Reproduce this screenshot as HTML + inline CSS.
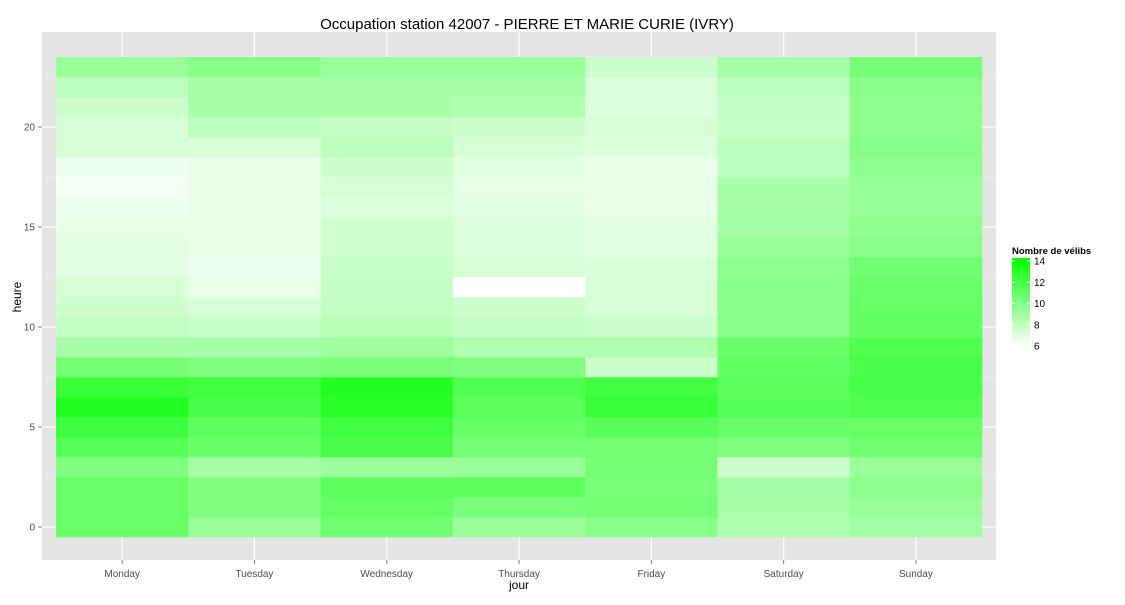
<!DOCTYPE html>
<html><head><meta charset="utf-8"><style>
body{margin:0;background:#fff;font-family:"Liberation Sans",sans-serif;}
svg text{font-family:"Liberation Sans",sans-serif;}
</style></head><body>
<svg id="chart" width="1125" height="600" xmlns="http://www.w3.org/2000/svg">
<text x="527" y="29" font-size="15" text-anchor="middle" fill="#000">Occupation station 42007 - PIERRE ET MARIE CURIE (IVRY)</text>
<rect x="42" y="32" width="954" height="528" fill="#e5e5e5"/>
<g id="grid"></g>
<g id="tiles"></g>
<g id="axes"></g>
<text x="519" y="589" font-size="12" text-anchor="middle">jour</text>
<text x="21" y="297" font-size="12" text-anchor="middle" transform="rotate(-90 21 297)">heure</text>
<g>
<text x="1012" y="254" font-size="9.5" font-weight="bold">Nombre de vélibs</text>
<defs><linearGradient id="lg" x1="0" y1="1" x2="0" y2="0"><stop offset="0" stop-color="#ffffff"/><stop offset="1" stop-color="#00ff00"/></linearGradient></defs>
<rect x="1012" y="258" width="18" height="88" fill="url(#lg)"/>
<g id="legendticks"></g>
</g>
</svg>
<script>
const days = ["Monday","Tuesday","Wednesday","Thursday","Friday","Saturday","Sunday"];
const hours = [0,1,2,3,4,5,6,7,8,9,10,11,12,13,14,15,16,17,18,19,20,21,22,23];
// values per day, hour 0..23
const monday    = [10.8,10.8,10.8,10.0,11.3,12.1,13.0,12.2,10.3,8.7,7.9,7.6,7.3,6.9,6.9,6.8,6.5,6.3,6.5,7.3,7.3,7.6,8.1,9.2];
const tuesday   = [9.2,10.0,10.0,8.8,10.6,11.0,11.7,12.0,10.0,8.7,7.7,7.2,6.7,6.5,6.7,6.7,6.7,6.7,6.7,7.2,8.1,8.7,8.8,9.7];
const wednesday = [10.5,10.8,11.1,9.1,11.7,12.0,12.7,12.9,10.2,9.0,8.2,7.9,7.8,7.7,7.5,7.5,7.1,7.3,7.6,8.1,7.8,8.7,8.8,9.2];
const thursday  = [9.2,10.2,11.1,9.2,10.3,10.8,11.1,11.5,10.0,8.5,7.8,7.6,6.0,7.3,7.1,7.1,6.9,6.8,6.9,7.3,7.6,8.5,8.8,9.2];
const friday    = [9.7,10.4,10.2,10.3,10.4,11.2,12.2,11.9,7.6,8.5,7.6,7.3,7.3,7.2,6.9,6.9,6.7,6.8,6.7,7.1,7.3,7.1,7.1,7.6];
const saturday  = [8.5,8.7,8.9,7.6,10.0,10.7,11.2,11.1,10.9,10.6,9.7,9.7,9.7,9.6,9.2,8.9,8.8,8.7,8.1,8.1,7.7,7.8,8.1,8.7];
const sunday    = [8.9,9.2,9.6,9.2,10.5,10.8,11.5,11.7,11.7,11.5,10.9,10.8,10.7,10.5,9.7,9.5,9.3,9.3,9.5,9.7,9.6,9.6,9.7,10.3];
const series = [monday,tuesday,wednesday,thursday,friday,saturday,sunday];
const yTicks = [0,5,10,15,20];
const legendTicks = [6,8,10,12,14];
const vMin = 6, vMax = 14;

const NS="http://www.w3.org/2000/svg";
const px0=42, px1=996, py0=32, py1=560;
const bandW = 132.3, xStart = 56;
function xCenter(i){return xStart + bandW*(i+0.5);}
function yScale(h){return 527 - h*20;}
function color(v){const t=Math.max(0,Math.min(1,(v-vMin)/(vMax-vMin)));const c=Math.round(255*(1-t));return `rgb(${c},255,${c})`;}
function mk(tag,attrs,parent){const e=document.createElementNS(NS,tag);for(const k in attrs)e.setAttribute(k,attrs[k]);parent.appendChild(e);return e;}

const grid=document.getElementById('grid');
for(let h=-2.5;h<=25;h+=5){const y=yScale(h);if(y>py0&&y<py1){const l=mk('line',{x1:px0,x2:px1,y1:y,y2:y,stroke:'#f2f2f2','stroke-width':0.6},grid);

}}
yTicks.forEach(h=>{const y=yScale(h);const l=mk('line',{x1:px0,x2:px1,y1:y,y2:y,stroke:'#fff','stroke-width':1.2},grid);

});
days.forEach((d,i)=>{const x=xCenter(i);const l=mk('line',{x1:x,x2:x,y1:py0,y2:py1,stroke:'#fff','stroke-width':1.2},grid);

});

const tiles=document.getElementById('tiles');
series.forEach((vals,i)=>{vals.forEach((v,h)=>{const r=mk('rect',{x:xStart+bandW*i,y:yScale(hours[h])-10,width:bandW+0.3,height:20.3,fill:color(v)},tiles);

});});

const axes=document.getElementById('axes');
yTicks.forEach(h=>{const y=yScale(h);mk('line',{x1:38,x2:42,y1:y,y2:y,stroke:'#7f7f7f'},axes);
const t=mk('text',{x:35,y:y+3.5,'font-size':10,'text-anchor':'end',fill:'#4d4d4d'},axes);t.textContent=h;

});
days.forEach((d,i)=>{const x=xCenter(i);mk('line',{x1:x,x2:x,y1:560,y2:564,stroke:'#7f7f7f'},axes);
const t=mk('text',{x:x,y:577,'font-size':10,'text-anchor':'middle',fill:'#4d4d4d'},axes);t.textContent=d;

});

const lt=document.getElementById('legendticks');
legendTicks.forEach(v=>{const y=346-(v-vMin)*(85/8);
mk('line',{x1:1012,x2:1015,y1:y,y2:y,stroke:'#fff','stroke-width':0.8},lt);
mk('line',{x1:1027,x2:1030,y1:y,y2:y,stroke:'#fff','stroke-width':0.8},lt);
const t=mk('text',{x:1034,y:y+3.5,'font-size':10,fill:'#000'},lt);t.textContent=v;

});
</script>
</body></html>
